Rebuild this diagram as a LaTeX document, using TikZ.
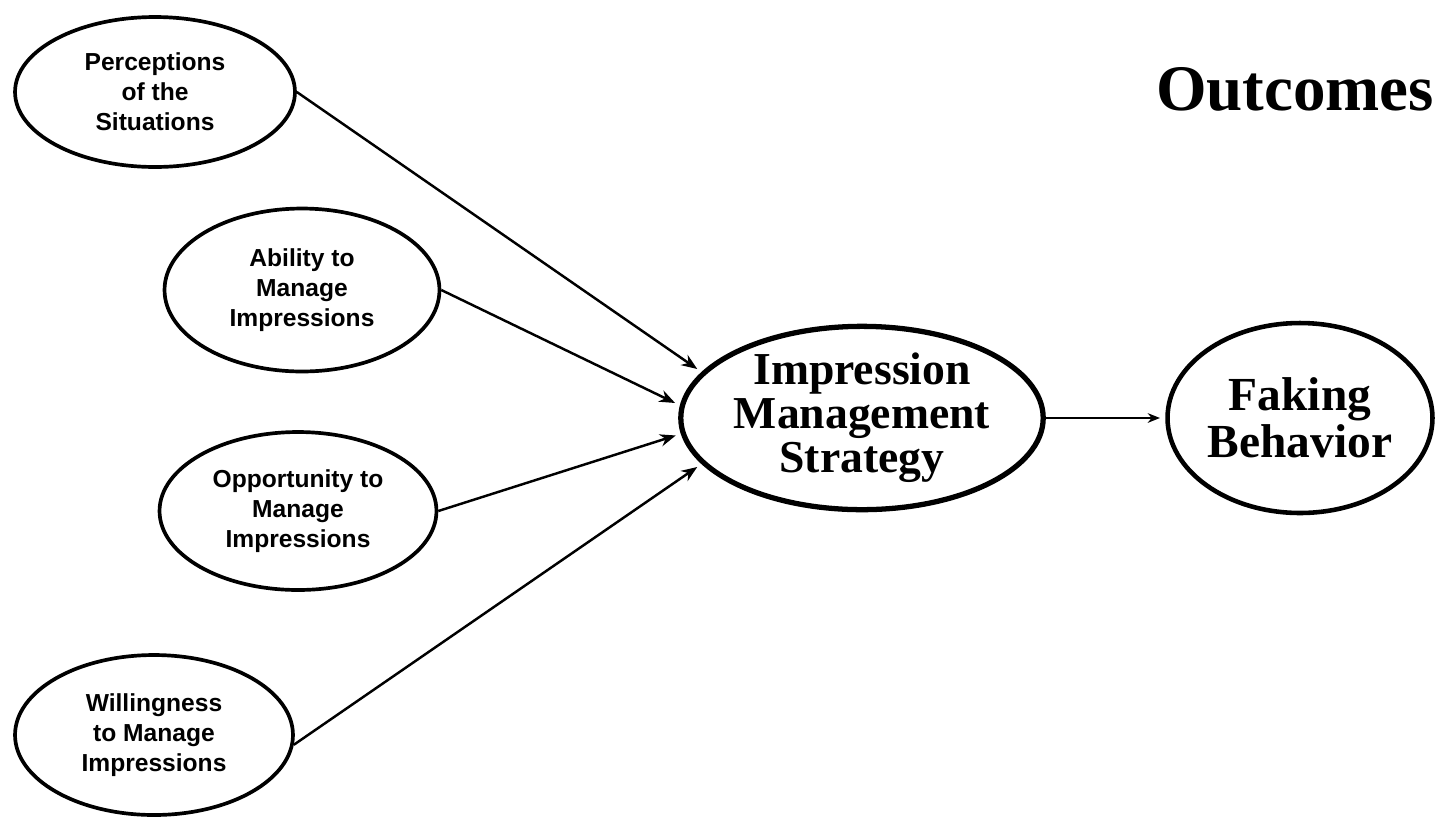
\documentclass[tikz,border=0pt]{standalone}
\usepackage{fontspec}
\setmainfont{Liberation Serif}
\newfontfamily\smallsans{Liberation Sans}
\usetikzlibrary{shapes.geometric,arrows.meta}
\begin{document}
\begin{tikzpicture}[x=0.02cm,y=-0.02cm,
  smallell/.style={ellipse, draw, line width=2.1pt, inner sep=0pt, align=center,
    font=\smallsans\bfseries\fontsize{14}{17}\selectfont},
  bigell/.style={ellipse, draw, line width=3pt, inner sep=0pt, align=center},
  conn/.style={line width=1.4pt, -{Stealth[length=9pt,width=7pt]}, shorten >=3pt},
  conntwo/.style={line width=1.1pt, -{Stealth[length=7pt,width=5.5pt]}, shorten >=3pt}]
\useasboundingbox[fill=white] (0,0) rectangle (1436,819);

\node[smallell, minimum width=5.6cm, minimum height=3.0cm] (perc) at (155,92) {Perceptions\\of the\\Situations};
\node[smallell, minimum width=5.5cm, minimum height=3.26cm] (abil) at (302,290) {Ability to\\Manage\\Impressions};
\node[smallell, minimum width=5.54cm, minimum height=3.16cm] (opp) at (298,511) {Opportunity to\\Manage\\Impressions};
\node[smallell, minimum width=5.56cm, minimum height=3.2cm] (will) at (154,735) {Willingness\\to Manage\\Impressions};

\node[bigell, minimum width=7.2cm, minimum height=3.66cm,
  font=\bfseries\fontsize{26}{25}\selectfont] (ims) at (862,418) {Impression\\Management\\Strategy};
\node[bigell, line width=2.6pt, minimum width=5.3cm, minimum height=3.8cm,
  font=\bfseries\fontsize{27}{27}\selectfont] (fake) at (1300,418) {Faking\\Behavior};

\node[font=\bfseries\fontsize{37}{40}\selectfont, anchor=base, inner sep=0pt] (out) at (1295,110) {Outcomes};

\draw[conn] (perc.east) -- (ims.164);
\draw[conn] (abil.east) -- (ims.176);
\draw[conn] (opp.east) -- (ims.185);
\draw[conn] (will.-4) -- (ims.196);
\draw[conntwo] (ims.east) -- (fake.west);
\end{tikzpicture}
\end{document}
